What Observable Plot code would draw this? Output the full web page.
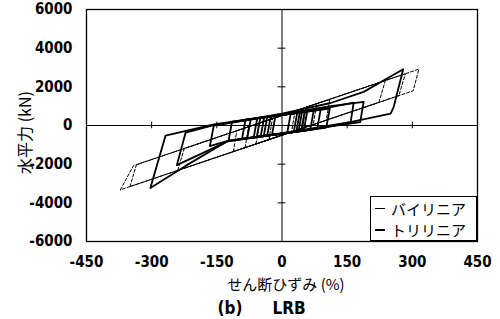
<!DOCTYPE html>
<html><head><meta charset="utf-8">
<script src="https://cdn.jsdelivr.net/npm/d3@7"></script>
<script src="https://cdn.jsdelivr.net/npm/@observablehq/plot@0.6"></script>
<style>
body{margin:0;background:#fff;}
#wrap{position:relative;width:500px;height:319px;overflow:hidden;}
.legend{position:absolute;left:370px;top:196px;width:107px;height:45px;border:1px solid #000;background:#fff;box-sizing:border-box;font-family:'Noto Sans CJK JP',sans-serif;font-size:15px;line-height:21px;padding:1px 0 0 4px;color:#000;}
.legend div{display:flex;align-items:center;white-space:nowrap;height:21px;}
.legend .s{display:inline-block;width:10px;margin-right:6px;}
</style></head><body><div id="wrap"></div>
<script>
// axis ticks
const xTicks = [-450, -300, -150, 0, 150, 300, 450];
const yTicks = [-6000, -4000, -2000, 0, 2000, 4000, 6000];
const innerXTicks = [-300, -150, 150, 300];
const innerYTicks = [-4000, -2000, 2000, 4000];
const seriesNames = ["バイリニア", "トリリニア"];

// bilinear model (dashed) hysteresis loops: [shear strain %, horizontal force kN]
const biLoop1 = [[-30,-728],[-22,353],[30,748],[22,-333],[-30,-728]];
const biLoop2 = [[-60,-956],[-52,125],[55,938],[47,-143],[-60,-956]];
const biLoop3 = [[-85,-1146],[-77,-65],[80,1128],[72,47],[-85,-1146]];
const biLoop4 = [[-112,-1351],[-104,-270],[110,1356],[102,275],[-112,-1351]];
const biLoop5 = [[-240,-2324],[-225,-1190],[238,2329],[223,1195],[-240,-2324]];
const biLoop6 = [[-350,-3160],[-335,-2026],[284,2678],[269,1544],[-350,-3160]];
const biLoop7 = [[-372,-3327],[-342,-2079],[315,2914],[302,1795],[-372,-3327]];

// trilinear model (solid) hysteresis loops
const triLoop1 = [[-23,-489],[-15,505],[20,610],[12,-384],[-23,-489]];
const triLoop2 = [[-34,-522],[-26,472],[35,655],[27,-339],[-34,-522]];
const triLoop3 = [[-42,-546],[-34,448],[41,673],[33,-321],[-42,-546]];
const triLoop4 = [[-49,-567],[-41,427],[46,688],[38,-306],[-49,-567]];
const triLoop5 = [[-58,-594],[-50,400],[52,706],[44,-288],[-58,-594]];
const triLoop6 = [[-65,-615],[-57,379],[58,724],[50,-270],[-65,-615]];
const triLoop7 = [[-80,-660],[-72,334],[73,769],[65,-225],[-80,-660]];
const triLoop8 = [[-92,-696],[-84,298],[89,817],[81,-177],[-92,-696]];
const triLoop9 = [[-123,-789],[-115,205],[110,880],[102,-114],[-123,-789]];
const triLoop10 = [[-166,-1065],[-157,0],[0,560],[112,950],[165,1180],[158,170],[112,-50],[0,-420],[-125,-800],[-166,-1065]];
const triLoop11 = [[-242,-2050],[-222,-374],[-157,20],[0,590],[112,1000],[188,1217],[180,180],[112,-40],[0,-420],[-125,-820],[-242,-2050]];
const triLoop12 = [[-303,-3238],[-268,-522],[-157,60],[-73,330],[0,620],[112,1164],[188,1739],[279,2909],[257,956],[250,611],[157,172],[112,0],[0,-400],[-125,-805],[-222,-2089],[-303,-3238]];

const biLoops = [biLoop1, biLoop2, biLoop3, biLoop4, biLoop5, biLoop6, biLoop7];
const triLoops = [triLoop1, triLoop2, triLoop3, triLoop4, triLoop5, triLoop6, triLoop7, triLoop8, triLoop9, triLoop10, triLoop11, triLoop12];
const toRows = loops => loops.flatMap((loop, i) => loop.map(([x, y]) => ({x, y, loop: i})));
const biRows = toRows(biLoops);
const triRows = toRows(triLoops);

const jp = "'Noto Sans CJK JP', sans-serif";
const num = "'Liberation Sans Narrow', 'DejaVu Sans Condensed', 'Arial Narrow', sans-serif";

const plot = Plot.plot({
  width: 500, height: 319,
  marginTop: 9, marginBottom: 78, marginLeft: 86, marginRight: 23,
  style: {fontFamily: num, fontSize: "15px", fontWeight: "bold", background: "#fff", color: "#000"},
  x: {domain: [-450, 450], ticks: xTicks, tickSize: 0, tickPadding: 15, tickFormat: d => String(d), label: null},
  y: {domain: [-6000, 6000], ticks: yTicks, tickSize: 0, tickPadding: 14, tickFormat: d => String(d), label: null},
  marks: [
    Plot.frame({stroke: "#000", strokeWidth: 1.3}),
    Plot.ruleY([0], {stroke: "#000", strokeWidth: 1}),
    Plot.ruleX([0], {stroke: "#000", strokeWidth: 1}),
    Plot.ruleX(innerXTicks, {y1: -170, y2: 170, stroke: "#000", strokeWidth: 1}),
    Plot.ruleY(innerYTicks, {x1: -9, x2: 9, stroke: "#000", strokeWidth: 1}),
    Plot.line(biRows, {x: "x", y: "y", z: "loop", stroke: "#000", strokeWidth: 1, strokeDasharray: "3,2"}),
    Plot.line(triRows, {x: "x", y: "y", z: "loop", stroke: "#000", strokeWidth: 1.8}),
    Plot.text(["水平力 (kN)"], {frameAnchor: "left", textAnchor: "middle", dx: -61, dy: 7, rotate: -90, fontFamily: jp, fontSize: 16, fontWeight: "normal", fill: "#000"}),
    Plot.text(["せん断ひずみ (%)"], {frameAnchor: "bottom", textAnchor: "middle", dx: 4, dy: 48, fontFamily: jp, fontSize: 15, fontWeight: "normal", fill: "#000"}),
    Plot.text(["(b)"], {frameAnchor: "bottom", textAnchor: "middle", dx: -52, dy: 72, fontFamily: num, fontSize: 17, fontWeight: "bold", fill: "#000"}),
    Plot.text(["LRB"], {frameAnchor: "bottom", textAnchor: "middle", dx: 7, dy: 72, fontFamily: num, fontSize: 17, fontWeight: "bold", fill: "#000"})
  ]
});
const wrap = document.getElementById("wrap");
wrap.appendChild(plot);
const lg = document.createElement("div");
lg.className = "legend";
lg.innerHTML = `<div><span class="s" style="border-top:1px solid #000"></span>${seriesNames[0]}</div>` +
               `<div><span class="s" style="border-top:2px solid #000"></span>${seriesNames[1]}</div>`;
wrap.appendChild(lg);
</script></body></html>
